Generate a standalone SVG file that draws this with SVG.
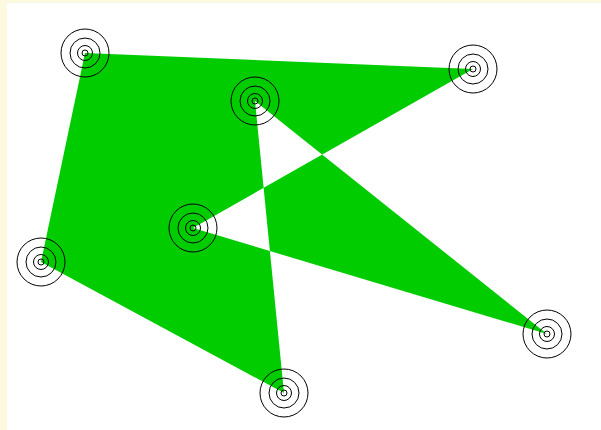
<svg xmlns="http://www.w3.org/2000/svg" width="601" height="430" viewBox="0 0 601 430">
<defs>
<style>
.ring{fill:none;stroke:#000;stroke-width:1}
</style>
<g id="target">
<circle class="ring" r="24"/>
<circle class="ring" r="15"/>
<circle class="ring" r="7.5"/>
<circle class="ring" r="3"/>
</g>
</defs>
<rect x="0" y="0" width="601" height="430" fill="#fdf8e0"/>
<rect x="7" y="3" width="594" height="427" fill="#ffffff"/>
<g id="connectors">
<polygon points="85,53 473,69 193,228 547,334 255,101 284,393 41,262" fill="#00cc00" fill-rule="nonzero"/>
</g>
<g id="p1"><use href="#target" x="85" y="53"/></g>
<g id="p2"><use href="#target" x="473" y="69"/></g>
<g id="p3"><use href="#target" x="255" y="101"/></g>
<g id="p4"><use href="#target" x="193" y="228"/></g>
<g id="p5"><use href="#target" x="41" y="262"/></g>
<g id="p6"><use href="#target" x="547" y="334"/></g>
<g id="p7"><use href="#target" x="284" y="393"/></g>
</svg>
